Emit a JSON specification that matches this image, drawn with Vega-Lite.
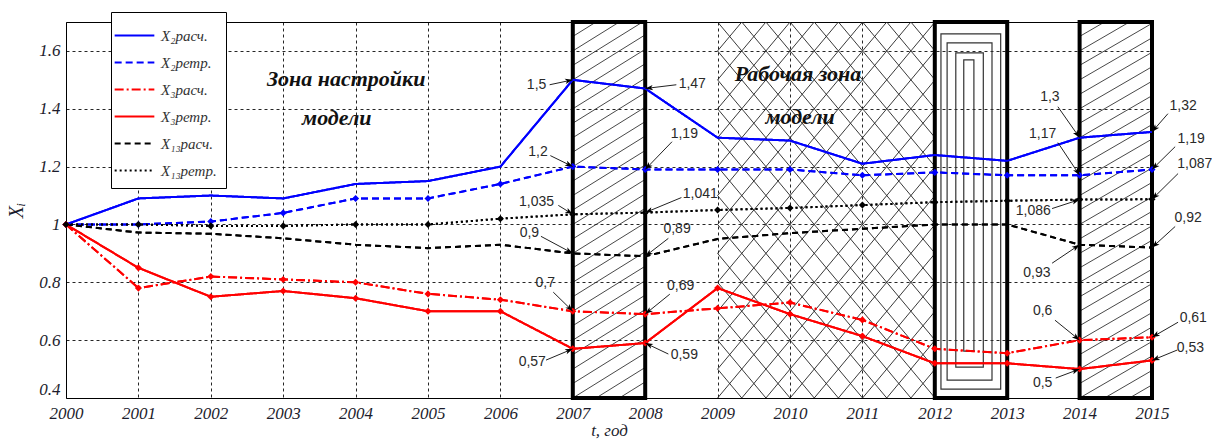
{
  "$schema": "https://vega.github.io/schema/vega-lite/v6.json",
  "width": 1086,
  "height": 376,
  "autosize": {"type": "none"},
  "padding": {"left": 66, "top": 22, "right": 60, "bottom": 43},
  "background": "white",
  "config": {
    "view": {"stroke": "black", "strokeWidth": 1},
    "legend": {
      "fillColor": "white",
      "strokeColor": "black",
      "padding": 9,
      "labelFont": "Liberation Serif",
      "labelFontStyle": "italic",
      "labelFontSize": 15,
      "labelColor": "#333",
      "labelOffset": 12,
      "symbolType": "M-1.5,0L1.5,0",
      "symbolStrokeWidth": 2,
      "symbolSize": 700,
      "rowPadding": 4
    }
  },
  "datasets": {
    "series": [
      {"s": "X₂расч.", "year": 2000, "v": 1.0}, {"s": "X₂расч.", "year": 2001, "v": 1.09}, {"s": "X₂расч.", "year": 2002, "v": 1.1}, {"s": "X₂расч.", "year": 2003, "v": 1.09}, {"s": "X₂расч.", "year": 2004, "v": 1.14}, {"s": "X₂расч.", "year": 2005, "v": 1.15}, {"s": "X₂расч.", "year": 2006, "v": 1.2}, {"s": "X₂расч.", "year": 2007, "v": 1.5}, {"s": "X₂расч.", "year": 2008, "v": 1.47}, {"s": "X₂расч.", "year": 2009, "v": 1.3}, {"s": "X₂расч.", "year": 2010, "v": 1.29}, {"s": "X₂расч.", "year": 2011, "v": 1.21}, {"s": "X₂расч.", "year": 2012, "v": 1.24}, {"s": "X₂расч.", "year": 2013, "v": 1.22}, {"s": "X₂расч.", "year": 2014, "v": 1.3}, {"s": "X₂расч.", "year": 2015, "v": 1.32},
      {"s": "X₂ретр.", "year": 2000, "v": 1.0}, {"s": "X₂ретр.", "year": 2001, "v": 1.0}, {"s": "X₂ретр.", "year": 2002, "v": 1.01}, {"s": "X₂ретр.", "year": 2003, "v": 1.04}, {"s": "X₂ретр.", "year": 2004, "v": 1.09}, {"s": "X₂ретр.", "year": 2005, "v": 1.09}, {"s": "X₂ретр.", "year": 2006, "v": 1.14}, {"s": "X₂ретр.", "year": 2007, "v": 1.2}, {"s": "X₂ретр.", "year": 2008, "v": 1.19}, {"s": "X₂ретр.", "year": 2009, "v": 1.19}, {"s": "X₂ретр.", "year": 2010, "v": 1.19}, {"s": "X₂ретр.", "year": 2011, "v": 1.17}, {"s": "X₂ретр.", "year": 2012, "v": 1.18}, {"s": "X₂ретр.", "year": 2013, "v": 1.17}, {"s": "X₂ретр.", "year": 2014, "v": 1.17}, {"s": "X₂ретр.", "year": 2015, "v": 1.19},
      {"s": "X₃расч.", "year": 2000, "v": 1.0}, {"s": "X₃расч.", "year": 2001, "v": 0.78}, {"s": "X₃расч.", "year": 2002, "v": 0.82}, {"s": "X₃расч.", "year": 2003, "v": 0.81}, {"s": "X₃расч.", "year": 2004, "v": 0.8}, {"s": "X₃расч.", "year": 2005, "v": 0.76}, {"s": "X₃расч.", "year": 2006, "v": 0.74}, {"s": "X₃расч.", "year": 2007, "v": 0.7}, {"s": "X₃расч.", "year": 2008, "v": 0.69}, {"s": "X₃расч.", "year": 2009, "v": 0.71}, {"s": "X₃расч.", "year": 2010, "v": 0.73}, {"s": "X₃расч.", "year": 2011, "v": 0.67}, {"s": "X₃расч.", "year": 2012, "v": 0.57}, {"s": "X₃расч.", "year": 2013, "v": 0.555}, {"s": "X₃расч.", "year": 2014, "v": 0.6}, {"s": "X₃расч.", "year": 2015, "v": 0.61},
      {"s": "X₃ретр.", "year": 2000, "v": 1.0}, {"s": "X₃ретр.", "year": 2001, "v": 0.85}, {"s": "X₃ретр.", "year": 2002, "v": 0.75}, {"s": "X₃ретр.", "year": 2003, "v": 0.77}, {"s": "X₃ретр.", "year": 2004, "v": 0.745}, {"s": "X₃ретр.", "year": 2005, "v": 0.7}, {"s": "X₃ретр.", "year": 2006, "v": 0.7}, {"s": "X₃ретр.", "year": 2007, "v": 0.57}, {"s": "X₃ретр.", "year": 2008, "v": 0.59}, {"s": "X₃ретр.", "year": 2009, "v": 0.78}, {"s": "X₃ретр.", "year": 2010, "v": 0.69}, {"s": "X₃ретр.", "year": 2011, "v": 0.614}, {"s": "X₃ретр.", "year": 2012, "v": 0.52}, {"s": "X₃ретр.", "year": 2013, "v": 0.52}, {"s": "X₃ретр.", "year": 2014, "v": 0.5}, {"s": "X₃ретр.", "year": 2015, "v": 0.53},
      {"s": "X₁₃расч.", "year": 2000, "v": 1.0}, {"s": "X₁₃расч.", "year": 2001, "v": 0.972}, {"s": "X₁₃расч.", "year": 2002, "v": 0.968}, {"s": "X₁₃расч.", "year": 2003, "v": 0.952}, {"s": "X₁₃расч.", "year": 2004, "v": 0.93}, {"s": "X₁₃расч.", "year": 2005, "v": 0.918}, {"s": "X₁₃расч.", "year": 2006, "v": 0.93}, {"s": "X₁₃расч.", "year": 2007, "v": 0.9}, {"s": "X₁₃расч.", "year": 2008, "v": 0.89}, {"s": "X₁₃расч.", "year": 2009, "v": 0.95}, {"s": "X₁₃расч.", "year": 2010, "v": 0.97}, {"s": "X₁₃расч.", "year": 2011, "v": 0.985}, {"s": "X₁₃расч.", "year": 2012, "v": 1.0}, {"s": "X₁₃расч.", "year": 2013, "v": 1.0}, {"s": "X₁₃расч.", "year": 2014, "v": 0.93}, {"s": "X₁₃расч.", "year": 2015, "v": 0.92},
      {"s": "X₁₃ретр.", "year": 2000, "v": 1.0}, {"s": "X₁₃ретр.", "year": 2001, "v": 1.0}, {"s": "X₁₃ретр.", "year": 2002, "v": 0.995}, {"s": "X₁₃ретр.", "year": 2003, "v": 0.995}, {"s": "X₁₃ретр.", "year": 2004, "v": 1.0}, {"s": "X₁₃ретр.", "year": 2005, "v": 1.0}, {"s": "X₁₃ретр.", "year": 2006, "v": 1.02}, {"s": "X₁₃ретр.", "year": 2007, "v": 1.035}, {"s": "X₁₃ретр.", "year": 2008, "v": 1.041}, {"s": "X₁₃ретр.", "year": 2009, "v": 1.05}, {"s": "X₁₃ретр.", "year": 2010, "v": 1.057}, {"s": "X₁₃ретр.", "year": 2011, "v": 1.067}, {"s": "X₁₃ретр.", "year": 2012, "v": 1.077}, {"s": "X₁₃ретр.", "year": 2013, "v": 1.082}, {"s": "X₁₃ретр.", "year": 2014, "v": 1.086}, {"s": "X₁₃ретр.", "year": 2015, "v": 1.087}
    ],
    "hd": [
      {"y": 0.2}, {"y": 0.25}, {"y": 0.3}, {"y": 0.35}, {"y": 0.4}, {"y": 0.45}, {"y": 0.5}, {"y": 0.55}, {"y": 0.6}, {"y": 0.65}, {"y": 0.7}, {"y": 0.75}, {"y": 0.8}, {"y": 0.85}, {"y": 0.9}, {"y": 0.95}, {"y": 1.0}, {"y": 1.05}, {"y": 1.1}, {"y": 1.15}, {"y": 1.2}, {"y": 1.25}, {"y": 1.3}, {"y": 1.35}, {"y": 1.4}, {"y": 1.45}, {"y": 1.5}, {"y": 1.55}, {"y": 1.6}, {"y": 1.65}, {"y": 1.7}
    ],
    "hx": [
      {"y": -0.5}, {"y": -0.4}, {"y": -0.3}, {"y": -0.2}, {"y": -0.1}, {"y": 0.0}, {"y": 0.1}, {"y": 0.2}, {"y": 0.3}, {"y": 0.4}, {"y": 0.5}, {"y": 0.6}, {"y": 0.7}, {"y": 0.8}, {"y": 0.9}, {"y": 1.0}, {"y": 1.1}, {"y": 1.2}, {"y": 1.3}, {"y": 1.4}, {"y": 1.5}, {"y": 1.6}, {"y": 1.7}, {"y": 1.8}, {"y": 1.9}, {"y": 2.0}, {"y": 2.1}, {"y": 2.2}, {"y": 2.3}, {"y": 2.4}, {"y": 2.5}, {"y": 2.6}
    ],
    "conc": [
      {"x": 2012.085, "x2": 2012.91, "y": 0.431, "y2": 1.659},
      {"x": 2012.17, "x2": 2012.79, "y": 0.462, "y2": 1.628},
      {"x": 2012.29, "x2": 2012.67, "y": 0.507, "y2": 1.593},
      {"x": 2012.4, "x2": 2012.54, "y": 0.562, "y2": 1.569}
    ],
    "boxes": [
      {"x": 2007, "x2": 2008},
      {"x": 2012, "x2": 2013},
      {"x": 2014, "x2": 2015}
    ],
    "ann": [
      {"t": "1,5", "lx": 2006.5, "ly": 1.483, "ax": 2006.68, "ay": 1.483, "tx": 2007, "ty": 1.5},
      {"t": "1,47", "lx": 2008.65, "ly": 1.486, "ax": 2008.43, "ay": 1.483, "tx": 2008, "ty": 1.47},
      {"t": "1,2", "lx": 2006.52, "ly": 1.252, "ax": 2006.69, "ay": 1.238, "tx": 2007, "ty": 1.2},
      {"t": "1,19", "lx": 2008.54, "ly": 1.314, "ax": 2008.37, "ay": 1.286, "tx": 2008, "ty": 1.19},
      {"t": "1,035", "lx": 2006.5, "ly": 1.079, "ax": 2006.8, "ay": 1.066, "tx": 2007, "ty": 1.035},
      {"t": "1,041", "lx": 2008.76, "ly": 1.107, "ax": 2008.5, "ay": 1.093, "tx": 2008, "ty": 1.041},
      {"t": "0,9", "lx": 2006.4, "ly": 0.969, "ax": 2006.56, "ay": 0.959, "tx": 2007, "ty": 0.9},
      {"t": "0,89", "lx": 2008.44, "ly": 0.983, "ax": 2008.32, "ay": 0.952, "tx": 2008, "ty": 0.89},
      {"t": "0,7", "lx": 2006.62, "ly": 0.797, "ax": 2006.73, "ay": 0.766, "tx": 2007, "ty": 0.7},
      {"t": "0,69", "lx": 2008.49, "ly": 0.786, "ax": 2008.34, "ay": 0.759, "tx": 2008, "ty": 0.69},
      {"t": "0,57", "lx": 2006.44, "ly": 0.524, "ax": 2006.63, "ay": 0.531, "tx": 2007, "ty": 0.57},
      {"t": "0,59", "lx": 2008.54, "ly": 0.548, "ax": 2008.32, "ay": 0.552, "tx": 2008, "ty": 0.59},
      {"t": "1,3", "lx": 2013.59, "ly": 1.441, "ax": 2013.7, "ay": 1.407, "tx": 2014, "ty": 1.3},
      {"t": "1,32", "lx": 2015.43, "ly": 1.41, "ax": 2015.22, "ay": 1.383, "tx": 2015, "ty": 1.32},
      {"t": "1,17", "lx": 2013.49, "ly": 1.314, "ax": 2013.7, "ay": 1.283, "tx": 2014, "ty": 1.17},
      {"t": "1,19", "lx": 2015.54, "ly": 1.297, "ax": 2015.32, "ay": 1.269, "tx": 2015, "ty": 1.19},
      {"t": "1,087", "lx": 2015.59, "ly": 1.21, "ax": 2015.36, "ay": 1.176, "tx": 2015, "ty": 1.087},
      {"t": "1,086", "lx": 2013.36, "ly": 1.045, "ax": 2013.62, "ay": 1.055, "tx": 2014, "ty": 1.086},
      {"t": "0,92", "lx": 2015.5, "ly": 1.024, "ax": 2015.32, "ay": 0.993, "tx": 2015, "ty": 0.92},
      {"t": "0,93", "lx": 2013.41, "ly": 0.831, "ax": 2013.62, "ay": 0.866, "tx": 2014, "ty": 0.93},
      {"t": "0,6", "lx": 2013.49, "ly": 0.7, "ax": 2013.66, "ay": 0.669, "tx": 2014, "ty": 0.6},
      {"t": "0,61", "lx": 2015.57, "ly": 0.676, "ax": 2015.36, "ay": 0.662, "tx": 2015, "ty": 0.61},
      {"t": "0,53", "lx": 2015.53, "ly": 0.572, "ax": 2015.35, "ay": 0.566, "tx": 2015, "ty": 0.53},
      {"t": "0,5", "lx": 2013.49, "ly": 0.452, "ax": 2013.67, "ay": 0.469, "tx": 2014, "ty": 0.5}
    ],
    "zones": [
      {"t": "Зона настройки", "x": 2003.87, "y": 1.503},
      {"t": "модели", "x": 2003.74, "y": 1.369},
      {"t": "Рабочая зона", "x": 2010.11, "y": 1.521},
      {"t": "модели", "x": 2010.14, "y": 1.372}
    ]
  },
  "layer": [
    {
      "data": {"name": "series"},
      "mark": {"type": "line", "strokeWidth": 2},
      "encoding": {
        "x": {"field": "year", "type": "quantitative", "scale": {"domain": [2000, 2015], "nice": false, "zero": false},
          "axis": {"values": [2000, 2001, 2002, 2003, 2004, 2005, 2006, 2007, 2008, 2009, 2010, 2011, 2012, 2013, 2014, 2015], "format": "d", "grid": true, "gridColor": "black", "gridDash": [3, 3], "gridOpacity": 0.85, "domain": false, "ticks": false, "labelPadding": 7, "labelFont": "Liberation Serif", "labelFontStyle": "italic", "labelFontSize": 17, "labelColor": "#1c1c2c", "labelFlush": false, "title": "t, год", "titleFont": "Liberation Serif", "titleFontStyle": "italic", "titleFontWeight": "normal", "titleFontSize": 17, "titleColor": "#1c1c2c", "titlePadding": 1}},
        "y": {"field": "v", "type": "quantitative", "scale": {"domain": [0.4, 1.7], "nice": false, "zero": false},
          "axis": {"values": [0.4, 0.6, 0.8, 1.0, 1.2, 1.4, 1.6], "format": "~g", "grid": true, "gridColor": "black", "gridDash": [3, 3], "gridOpacity": 0.85, "domain": false, "ticks": false, "labelPadding": 6, "labelFont": "Liberation Serif", "labelFontStyle": "italic", "labelFontSize": 17, "labelColor": "#1c1c2c", "labelFlush": true, "title": "Xᵢ", "titleFont": "Liberation Serif", "titleFontStyle": "italic", "titleFontWeight": "normal", "titleFontSize": 20, "titleColor": "#1c1c2c", "titlePadding": 12}},
        "color": {"field": "s", "type": "nominal",
          "scale": {"domain": ["X₂расч.", "X₂ретр.", "X₃расч.", "X₃ретр.", "X₁₃расч.", "X₁₃ретр."], "range": ["#0000ff", "#0000ff", "#ff0000", "#ff0000", "#000000", "#000000"]},
          "legend": {"orient": "none", "legendX": 45, "legendY": -10, "title": null}},
        "strokeDash": {"field": "s", "type": "nominal",
          "scale": {"domain": ["X₂расч.", "X₂ретр.", "X₃расч.", "X₃ретр.", "X₁₃расч.", "X₁₃ретр."], "range": [[1, 0], [7, 4], [9, 3, 2, 3], [1, 0], [6, 4], [2, 3]]},
          "legend": {"orient": "none", "legendX": 45, "legendY": -10, "title": null}}
      }
    },
    {
      "data": {"name": "hd"},
      "mark": {"type": "rule", "color": "#333", "strokeWidth": 0.9, "clip": true, "y2Offset": -45},
      "encoding": {
        "x": {"datum": 2007, "type": "quantitative"},
        "x2": {"datum": 2008},
        "y": {"field": "y", "type": "quantitative"},
        "y2": {"field": "y"}
      }
    },
    {
      "data": {"name": "hd"},
      "mark": {"type": "rule", "color": "#333", "strokeWidth": 0.9, "clip": true, "y2Offset": -42},
      "encoding": {
        "x": {"datum": 2014, "type": "quantitative"},
        "x2": {"datum": 2015},
        "y": {"field": "y", "type": "quantitative"},
        "y2": {"field": "y"}
      }
    },
    {
      "data": {"name": "hx"},
      "mark": {"type": "rule", "color": "#222", "strokeWidth": 0.9, "clip": true, "y2Offset": -260},
      "encoding": {
        "x": {"datum": 2009, "type": "quantitative"},
        "x2": {"datum": 2012},
        "y": {"field": "y", "type": "quantitative"},
        "y2": {"field": "y"}
      }
    },
    {
      "data": {"name": "hx"},
      "mark": {"type": "rule", "color": "#222", "strokeWidth": 0.9, "clip": true, "y2Offset": 260},
      "encoding": {
        "x": {"datum": 2009, "type": "quantitative"},
        "x2": {"datum": 2012},
        "y": {"field": "y", "type": "quantitative"},
        "y2": {"field": "y"}
      }
    },
    {
      "data": {"name": "conc"},
      "mark": {"type": "rect", "filled": false, "stroke": "#333", "strokeWidth": 1.2},
      "encoding": {
        "x": {"field": "x", "type": "quantitative"},
        "x2": {"field": "x2"},
        "y": {"field": "y", "type": "quantitative"},
        "y2": {"field": "y2"}
      }
    },
    {
      "data": {"name": "boxes"},
      "mark": {"type": "rect", "filled": false, "stroke": "black", "strokeWidth": 4},
      "encoding": {
        "x": {"field": "x", "type": "quantitative"},
        "x2": {"field": "x2"},
        "y": {"datum": 0.4, "type": "quantitative"},
        "y2": {"datum": 1.7}
      }
    },
    {
      "data": {"name": "series"},
      "mark": {"type": "line", "strokeWidth": 2},
      "encoding": {
        "x": {"field": "year", "type": "quantitative"},
        "y": {"field": "v", "type": "quantitative"},
        "color": {"field": "s", "type": "nominal", "legend": null},
        "strokeDash": {"field": "s", "type": "nominal", "legend": null}
      }
    },
    {
      "data": {"name": "series"},
      "transform": [{"filter": {"field": "s", "oneOf": ["X₂ретр.", "X₃расч.", "X₃ретр.", "X₁₃ретр."]}}],
      "mark": {"type": "point", "shape": "diamond", "filled": true, "size": 50, "opacity": 1},
      "encoding": {
        "x": {"field": "year", "type": "quantitative"},
        "y": {"field": "v", "type": "quantitative"},
        "color": {"field": "s", "type": "nominal", "legend": null}
      }
    },
    {
      "data": {"name": "ann"},
      "mark": {"type": "rule", "color": "#222", "strokeWidth": 1},
      "encoding": {
        "x": {"field": "ax", "type": "quantitative"},
        "x2": {"field": "tx"},
        "y": {"field": "ay", "type": "quantitative"},
        "y2": {"field": "ty"}
      }
    },
    {
      "data": {"name": "ann"},
      "transform": [{"calculate": "atan2((datum.ay - datum.ty) * 289, (datum.tx - datum.ax) * 72.4) * 180 / PI", "as": "ang"}],
      "mark": {"type": "point", "shape": "M0,0L-2,-0.7L-1.5,0L-2,0.7Z", "filled": true, "color": "black", "size": 60, "opacity": 1},
      "encoding": {
        "x": {"field": "tx", "type": "quantitative"},
        "y": {"field": "ty", "type": "quantitative"},
        "angle": {"field": "ang", "type": "quantitative", "scale": null}
      }
    },
    {
      "data": {"name": "ann"},
      "mark": {"type": "text", "font": "Liberation Sans", "fontSize": 14, "color": "#2a2a2a", "align": "center", "baseline": "middle"},
      "encoding": {
        "x": {"field": "lx", "type": "quantitative"},
        "y": {"field": "ly", "type": "quantitative"},
        "text": {"field": "t", "type": "nominal"}
      }
    },
    {
      "data": {"name": "zones"},
      "mark": {"type": "text", "font": "Liberation Serif", "fontSize": 22, "fontStyle": "italic", "fontWeight": "bold", "color": "#111", "align": "center", "baseline": "middle"},
      "encoding": {
        "x": {"field": "x", "type": "quantitative"},
        "y": {"field": "y", "type": "quantitative"},
        "text": {"field": "t", "type": "nominal"}
      }
    }
  ]
}
